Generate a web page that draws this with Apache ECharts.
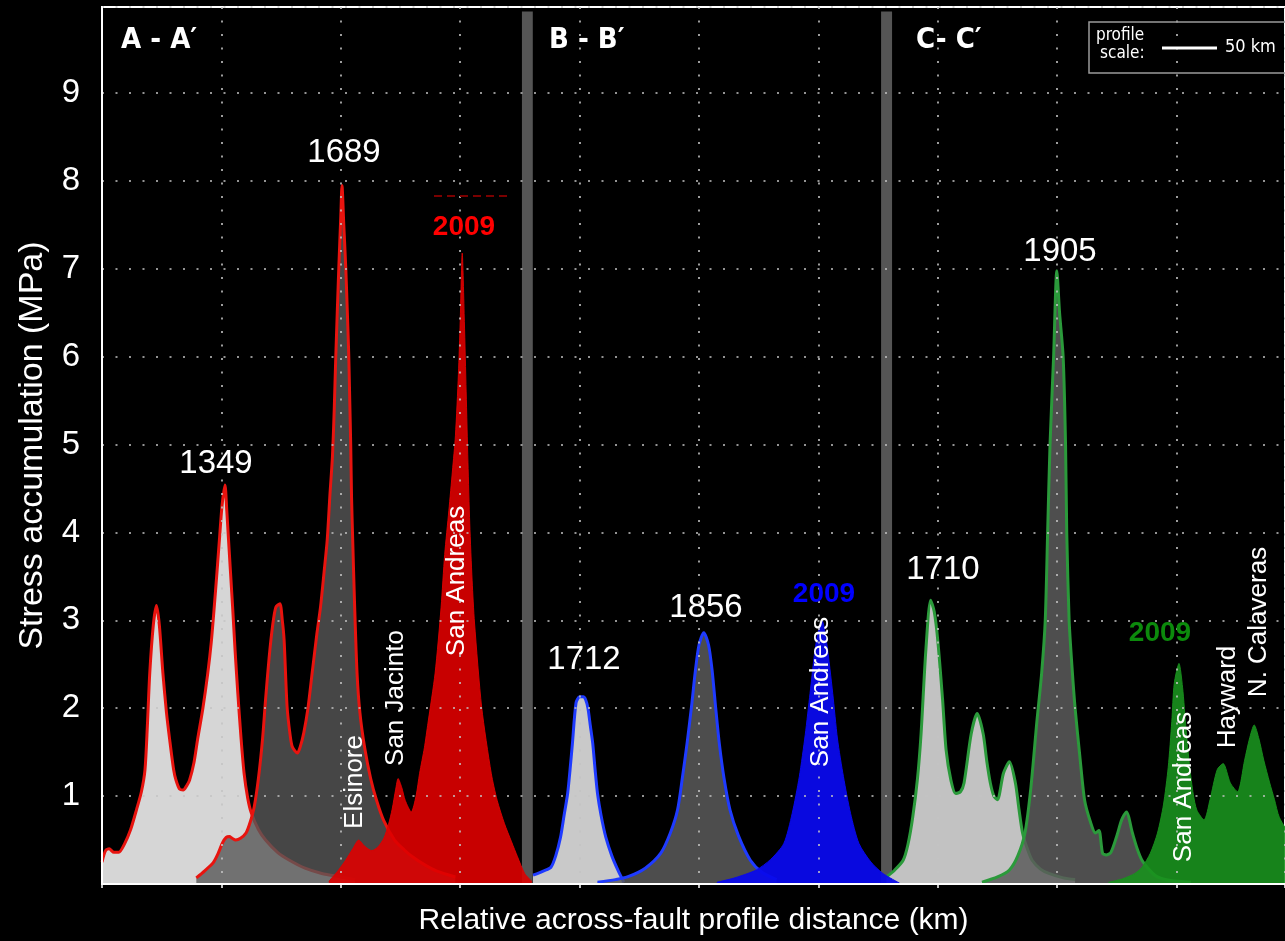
<!DOCTYPE html>
<html><head><meta charset="utf-8">
<script src="https://cdn.jsdelivr.net/npm/echarts@6/dist/echarts.min.js"></script>
<style>html,body{margin:0;padding:0;background:#000;}#c{width:1285px;height:941px;}</style>
</head><body><div id="c"></div>
<script>
// ---------- data (x in profile-grid units, y in MPa) ----------
const a1349 = [[0.00,0.25],[0.03,0.38],[0.06,0.40],[0.10,0.36],[0.14,0.36],[0.19,0.46],[0.24,0.62],[0.29,0.85],[0.33,1.05],[0.36,1.30],[0.38,1.8],[0.40,2.4],[0.43,2.95],[0.456,3.17],[0.48,2.95],[0.51,2.4],[0.54,1.95],[0.567,1.64],[0.60,1.30],[0.62,1.18],[0.65,1.08],[0.68,1.07],[0.71,1.12],[0.733,1.18],[0.77,1.38],[0.80,1.64],[0.845,2.0],[0.886,2.4],[0.915,2.75],[0.94,3.15],[0.963,3.55],[0.983,3.91],[1.005,4.3],[1.03,4.54],[1.045,4.25],[1.06,3.91],[1.094,3.15],[1.115,2.65],[1.136,2.2],[1.165,1.65],[1.19,1.26],[1.22,0.98],[1.25,0.81],[1.31,0.62],[1.37,0.50],[1.47,0.36],[1.57,0.27],[1.70,0.18],[1.84,0.12],[2.0,0.08],[2.12,0.05]];
const a1689 = [[0.79,0.07],[0.86,0.15],[0.93,0.24],[0.97,0.34],[1.01,0.47],[1.04,0.53],[1.067,0.54],[1.09,0.52],[1.12,0.50],[1.16,0.52],[1.206,0.58],[1.24,0.70],[1.275,0.88],[1.31,1.2],[1.344,1.64],[1.37,2.1],[1.40,2.58],[1.43,2.95],[1.456,3.15],[1.49,3.19],[1.51,3.0],[1.525,2.78],[1.55,2.02],[1.575,1.70],[1.594,1.56],[1.636,1.49],[1.66,1.56],[1.69,1.72],[1.725,2.0],[1.76,2.4],[1.80,2.85],[1.83,3.15],[1.86,3.55],[1.886,3.91],[1.91,4.45],[1.93,4.86],[1.945,5.4],[1.958,6.0],[1.983,7.0],[2.0,7.6],[2.01,7.95],[2.025,7.5],[2.042,7.0],[2.055,6.5],[2.067,6.0],[2.075,5.5],[2.083,5.0],[2.09,4.4],[2.10,3.9],[2.115,3.2],[2.136,2.4],[2.16,1.95],[2.20,1.55],[2.25,1.2],[2.30,0.95],[2.36,0.72],[2.45,0.50],[2.53,0.39],[2.6,0.31],[2.7,0.22],[2.8,0.15],[2.96,0.08]];
const a2009 = [[1.90,0.03],[1.97,0.14],[2.04,0.27],[2.10,0.40],[2.15,0.50],[2.20,0.43],[2.26,0.38],[2.31,0.42],[2.36,0.52],[2.40,0.68],[2.43,0.85],[2.46,1.08],[2.48,1.20],[2.51,1.10],[2.54,0.95],[2.59,0.82],[2.63,1.0],[2.66,1.26],[2.70,1.55],[2.73,1.83],[2.79,2.4],[2.84,3.15],[2.87,3.75],[2.905,4.25],[2.935,4.7],[2.96,5.1],[2.985,5.8],[3.0,6.4],[3.017,7.18],[3.035,6.4],[3.05,5.6],[3.065,4.8],[3.08,4.1],[3.10,3.45],[3.12,2.97],[3.18,2.01],[3.26,1.26],[3.31,0.95],[3.37,0.69],[3.43,0.48],[3.48,0.31],[3.54,0.12],[3.6,0.03]];

const b1712 = [[3.61,0.10],[3.70,0.15],[3.76,0.19],[3.80,0.32],[3.84,0.53],[3.87,0.78],[3.90,1.03],[3.92,1.3],[3.94,1.60],[3.97,2.06],[4.0,2.13],[4.03,2.13],[4.05,2.1],[4.07,2.0],[4.09,1.8],[4.11,1.6],[4.13,1.3],[4.15,1.03],[4.18,0.78],[4.22,0.53],[4.27,0.32],[4.32,0.16],[4.37,0.02]];
const b1856 = [[4.15,0.02],[4.30,0.05],[4.40,0.08],[4.55,0.18],[4.68,0.35],[4.76,0.58],[4.82,0.84],[4.86,1.2],[4.90,1.60],[4.94,2.05],[4.97,2.43],[5.0,2.72],[5.04,2.86],[5.08,2.72],[5.11,2.43],[5.14,2.0],[5.17,1.60],[5.21,1.2],[5.26,0.84],[5.33,0.55],[5.43,0.27],[5.53,0.13],[5.65,0.05]];
const b2009 = [[5.15,0.02],[5.30,0.07],[5.48,0.16],[5.60,0.28],[5.71,0.46],[5.78,0.8],[5.84,1.22],[5.89,1.7],[5.93,2.17],[5.98,2.74],[6.03,3.0],[6.07,2.74],[6.12,2.17],[6.16,1.65],[6.21,1.22],[6.27,0.8],[6.34,0.46],[6.44,0.25],[6.54,0.12],[6.68,0.01]];

const c1710 = [[6.57,0.08],[6.64,0.16],[6.71,0.27],[6.75,0.45],[6.79,0.76],[6.83,1.2],[6.86,1.71],[6.90,2.66],[6.94,3.23],[6.97,3.1],[7.0,2.77],[7.04,2.1],[7.07,1.52],[7.11,1.18],[7.15,1.03],[7.19,1.05],[7.22,1.15],[7.28,1.71],[7.33,1.94],[7.38,1.71],[7.41,1.4],[7.44,1.15],[7.47,1.0],[7.50,0.96],[7.55,1.26],[7.60,1.39],[7.65,1.15],[7.68,0.85],[7.71,0.58],[7.75,0.40],[7.79,0.27],[7.86,0.17],[7.93,0.12],[8.05,0.07],[8.15,0.05]];
const c1905 = [[7.37,0.02],[7.50,0.08],[7.60,0.16],[7.67,0.32],[7.73,0.58],[7.78,1.1],[7.83,1.85],[7.87,2.4],[7.90,3.0],[7.92,4.0],[7.94,5.0],[7.97,6.0],[7.997,6.98],[8.02,6.5],[8.05,6.0],[8.07,5.0],[8.08,4.0],[8.10,3.0],[8.125,2.45],[8.15,2.0],[8.19,1.45],[8.23,0.95],[8.28,0.70],[8.32,0.58],[8.35,0.61],[8.38,0.35],[8.41,0.33],[8.45,0.36],[8.50,0.55],[8.54,0.73],[8.58,0.82],[8.63,0.58],[8.67,0.40],[8.71,0.27],[8.78,0.15],[8.84,0.08],[8.95,0.04],[9.12,0.02]];
const c2009 = [[8.43,0.02],[8.55,0.06],[8.65,0.12],[8.71,0.19],[8.78,0.35],[8.84,0.58],[8.89,0.9],[8.93,1.33],[8.96,1.85],[8.98,2.28],[9.02,2.51],[9.05,2.24],[9.08,1.75],[9.11,1.33],[9.14,1.02],[9.17,0.84],[9.23,0.73],[9.28,0.96],[9.34,1.30],[9.39,1.37],[9.45,1.15],[9.51,1.05],[9.57,1.41],[9.61,1.65],[9.65,1.81],[9.69,1.65],[9.73,1.41],[9.78,1.15],[9.82,0.96],[9.86,0.76],[9.95,0.55]];

const panelDividers = [[3.517, 3.608], [6.525, 6.617]];
const panelTitles = ['A - A\u2032', 'B - B\u2032', 'C- C\u2032'];
const yearLabels = ['1349', '1689', '1712', '1856', '1710', '1905'];
const faultLabels = ['Elsinore', 'San Jacinto', 'San Andreas', 'San Andreas', 'San Andreas', 'Hayward', 'N. Calaveras'];

// ---------- chart ----------
const FONT = '"Liberation Sans", Arial, Helvetica, sans-serif';
const NARROW = '"Liberation Sans Narrow", "DejaVu Sans Condensed", "Liberation Sans", sans-serif';

function area(name, data, fill, stroke, strokeW, z) {
  return {
    name, type: 'line', data, z, smooth: 0.25, showSymbol: false, silent: true,
    clip: true,
    lineStyle: { color: stroke, width: strokeW },
    areaStyle: { color: fill, opacity: 1 },
    emphasis: { disabled: true }
  };
}

const series = [
  area('1349', a1349, '#d6d6d6', '#e8140f', 3, 2),
  area('1689', a1689, 'rgba(88,88,88,0.8)', '#e8140f', 3, 3),
  area('2009 A', a2009, 'rgba(222,0,0,0.9)', 'rgba(222,0,0,0.9)', 1, 4),
  area('1712', b1712, '#c9c9c9', '#1f3bff', 3, 2),
  area('1856', b1856, 'rgba(90,90,90,0.85)', '#1f3bff', 3, 3),
  area('2009 B', b2009, 'rgba(10,10,235,0.95)', 'rgba(10,10,235,0.95)', 1, 4),
  area('1710', c1710, '#c2c2c2', '#2b9a3b', 3, 2),
  area('1905', c1905, 'rgba(92,92,92,0.85)', '#2b9a3b', 3, 3),
  area('2009 C', c2009, 'rgba(25,145,30,0.9)', 'rgba(25,145,30,0.9)', 1, 4),
  {
    name: 'dividers', type: 'line', data: [], z: 6, silent: true,
    markArea: {
      silent: true,
      itemStyle: { color: '#555555', opacity: 1 },
      data: panelDividers.map(d => [{ xAxis: d[0], yAxis: 0 }, { xAxis: d[1], yAxis: 9.93 }])
    }
  }
];

function txt(text, x, y, font, fill, align, rot) {
  return {
    type: 'text', x, y, rotation: rot || 0, z: 100, silent: true,
    style: { text, font, fill, textAlign: align || 'center', textVerticalAlign: 'middle', align: align || 'center', verticalAlign: 'middle' }
  };
}
const R = Math.PI / 2;
const graphic = [
  txt(panelTitles[0], 121, 40, 'bold 29px ' + NARROW, '#fff', 'left'),
  txt(panelTitles[1], 549, 40, 'bold 29px ' + NARROW, '#fff', 'left'),
  txt(panelTitles[2], 916, 40, 'bold 29px ' + NARROW, '#fff', 'left'),
  txt(yearLabels[0], 216, 464, '33px ' + FONT, '#fff'),
  txt(yearLabels[1], 344, 153, '33px ' + FONT, '#fff'),
  txt(yearLabels[2], 584, 660, '33px ' + FONT, '#fff'),
  txt(yearLabels[3], 706, 608, '33px ' + FONT, '#fff'),
  txt(yearLabels[4], 943, 570, '33px ' + FONT, '#fff'),
  txt(yearLabels[5], 1060, 252, '33px ' + FONT, '#fff'),
  txt('2009', 464, 227, 'bold 28px ' + FONT, '#ff0000'),
  txt('2009', 824, 594, 'bold 28px ' + FONT, '#0000ff'),
  txt('2009', 1160, 633, 'bold 28px ' + FONT, '#0c8a0c'),
  txt(faultLabels[0], 355, 782, '26px ' + FONT, '#fff', 'center', R),
  txt(faultLabels[1], 396, 698, '26px ' + FONT, '#fff', 'center', R),
  txt(faultLabels[2], 457, 581, '26px ' + FONT, '#fff', 'center', R),
  txt(faultLabels[3], 821, 692, '26px ' + FONT, '#fff', 'center', R),
  txt(faultLabels[4], 1184, 787, '26px ' + FONT, '#fff', 'center', R),
  txt(faultLabels[5], 1228, 697, '26px ' + FONT, '#fff', 'center', R),
  txt(faultLabels[6], 1259, 622, '26px ' + FONT, '#fff', 'center', R),
  { type: 'rect', z: 100, silent: true, shape: { x: 1089, y: 22, width: 220, height: 51 }, style: { fill: 'none', stroke: '#9a9a9a', lineWidth: 1.5 } },
  txt('profile', 1096, 36, '17px ' + NARROW, '#fff', 'left'),
  txt('scale:', 1100, 54, '17px ' + NARROW, '#fff', 'left'),
  { type: 'line', z: 100, silent: true, shape: { x1: 1162, y1: 48, x2: 1217, y2: 48 }, style: { stroke: '#fff', lineWidth: 3 } },
  txt('50 km', 1225, 47, '18px ' + NARROW, '#fff', 'left'),
  { type: 'line', z: 100, silent: true, shape: { x1: 434, y1: 196, x2: 507, y2: 196 }, style: { stroke: '#7a0000', lineWidth: 2, lineDash: [8, 5] } }
];

const dotted = { color: '#c4c4c4', width: 1.6, type: [2, 11.5] };

const option = {
  backgroundColor: '#000',
  animation: false,
  grid: { left: 102, top: 7, right: -6, bottom: 57, show: true, borderColor: '#ffffff', borderWidth: 2, backgroundColor: 'transparent' },
  xAxis: {
    type: 'value', min: 0, max: 9.908, interval: 1, z: 10,
    name: 'Relative across-fault profile distance (km)', nameLocation: 'middle', nameGap: 22,
    nameTextStyle: { color: '#fff', fontSize: 30, fontFamily: FONT },
    axisLine: { show: true, onZero: false, lineStyle: { color: '#fff', width: 2 } },
    axisTick: { show: true, length: 4, lineStyle: { color: '#fff', width: 1.5 } },
    axisLabel: { show: false },
    splitLine: { show: true, lineStyle: dotted }
  },
  yAxis: {
    type: 'value', min: 0, max: 9.98, interval: 1, z: 10,
    name: 'Stress accumulation (MPa)', nameLocation: 'middle', nameGap: 52, nameRotate: 90,
    nameTextStyle: { color: '#fff', fontSize: 34, fontFamily: FONT },
    axisLine: { show: true, lineStyle: { color: '#fff', width: 2 } },
    axisTick: { show: false },
    axisLabel: {
      color: '#fff', fontSize: 33, fontFamily: FONT, margin: 22,
      formatter: v => (v > 0 && Math.abs(v - Math.round(v)) < 1e-6) ? String(Math.round(v)) : ''
    },
    splitLine: { show: true, lineStyle: dotted }
  },
  series,
  graphic
};

const chart = echarts.init(document.getElementById('c'), null, { renderer: 'canvas' });
chart.setOption(option);
</script></body></html>
